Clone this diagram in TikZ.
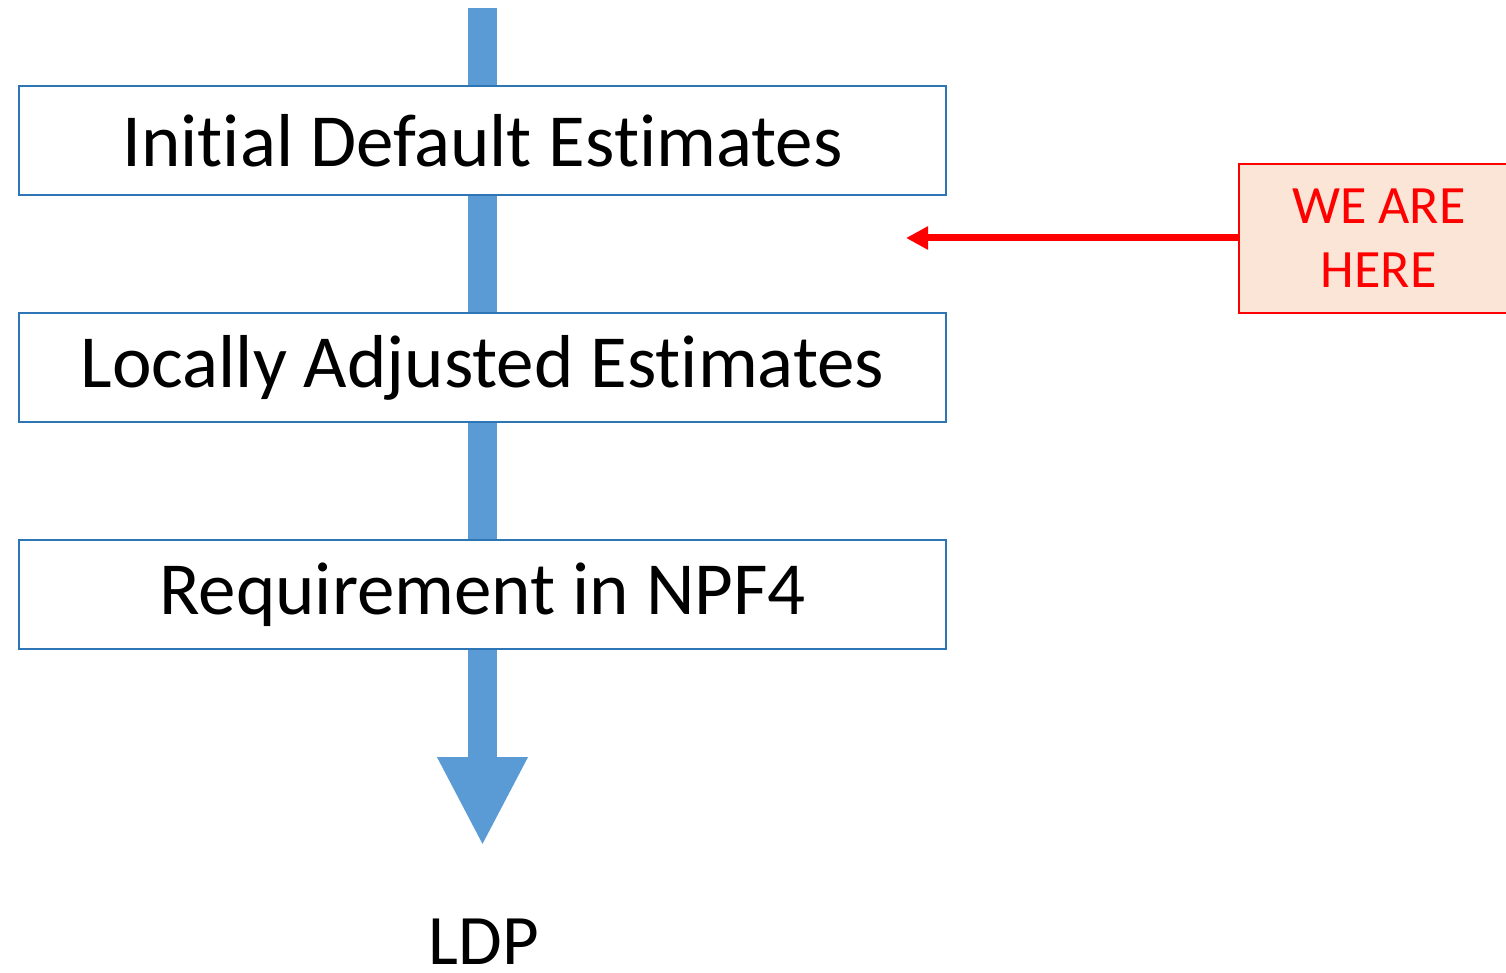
\documentclass[tikz,border=0pt]{standalone}
\usepackage{fontspec}
\setmainfont{Carlito}[RawFeature=-liga]
\usetikzlibrary{arrows.meta,backgrounds}
\definecolor{stemblue}{HTML}{5B9BD5}
\definecolor{boxblue}{HTML}{2E75B6}
\definecolor{notefill}{HTML}{FBE5D6}
\begin{document}
\begin{tikzpicture}[x=0.5pt,y=-0.5pt,
  stagebox/.style={draw=boxblue, line width=1pt, fill=white,
    minimum width=463.5pt, minimum height=54.5pt, inner sep=0pt,
    font=\fontsize{37.5}{42}\selectfont, text=black},
  notebox/.style={draw=red, line width=0.8pt, fill=notefill,
    minimum width=140pt, minimum height=74.5pt, inner sep=0pt,
    align=center, text=red, font=\fontsize{27}{32}\selectfont},
  flow/.style={stemblue, line width=14.5pt,
    -{Triangle[length=44.5pt,width=42pt]}},
  pointer/.style={red, line width=3.5pt,
    -{Triangle[length=11pt,width=11pt]}}]
\useasboundingbox (0,0) rectangle (1506,973);

% the three stages
\node[stagebox] (s1) at (482.5,140.5) {Initial Default Estimates};
\node[stagebox] (s2) at (482.5,367.5) {Locally Adjusted Estimates};
\node[stagebox] (s3) at (482.5,594.5) {Requirement in NPF4};

% outcome
\node[anchor=base, inner sep=0pt, text depth=0pt,
      font=\fontsize{35.5}{40}\selectfont] (ldp) at (484,964) {LDP};

% flow running behind the stages
\coordinate (top) at (482.5,8);
\coordinate (tip) at (482.5,846);
\begin{scope}[on background layer]
  \draw[flow] (top) -- (tip);
\end{scope}

% position marker
\node[notebox, anchor=north west] (here) at (1238,163) {WE ARE\\HERE};
\coordinate (mark) at (906,238);
\draw[pointer] (here.west |- mark) -- (mark);
\end{tikzpicture}
\end{document}
